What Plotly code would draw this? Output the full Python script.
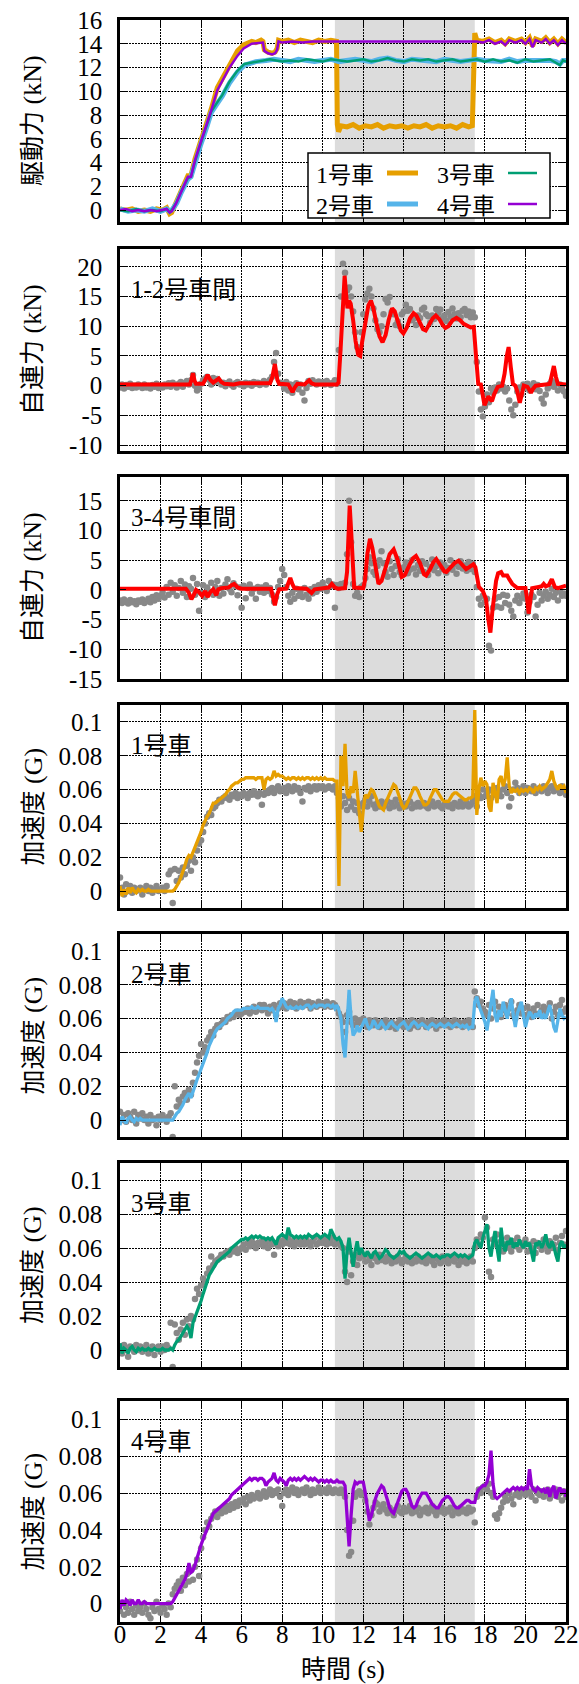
import plotly.graph_objects as go

# ------------------------------------------------------------------
# Logged series are sampled every 0.1 s from 0 to 22 s
# ------------------------------------------------------------------
t_log = [round(0.1 * i, 1) for i in range(221)]

# braking test window (gray band)
SHADE_START = 10.6
SHADE_END = 17.5

# ---------------- 駆動力 (kN) : break-points of each car ----------------
drive1_t = [0, 0.3, 0.6, 0.9, 1.2, 1.5, 1.8, 2.1, 2.3, 2.45, 2.55, 2.75, 3.0, 3.2, 3.35, 3.5, 3.7, 4.0,
            4.3, 4.5, 4.8, 5.05, 5.4, 5.8, 6.1, 6.5, 6.7, 6.96, 7.05, 7.12, 7.3, 7.5, 7.65, 7.75, 7.82,
            8.0, 8.3, 8.6, 8.9, 9.2, 9.5, 9.8, 10.1, 10.4, 10.68, 10.72, 10.78, 10.9, 11.2, 11.5, 11.8,
            12.1, 12.4, 12.7, 13.0, 13.3, 13.6, 13.9, 14.2, 14.5, 14.8, 15.1, 15.4, 15.7, 16.0, 16.3,
            16.6, 16.9, 17.2, 17.38, 17.45, 17.5, 17.6, 17.9, 18.2, 18.5, 18.8, 19.0, 19.2, 19.5, 19.8,
            20.0, 20.2, 20.35, 20.5, 20.8, 21.0, 21.2, 21.4, 21.6, 21.8, 22.0]
drive1_kn = [0.1, 0.0, 0.1, -0.1, 0.0, -0.1, 0.1, 0.0, 0.2, -0.3, -0.2, 0.6, 1.6, 2.4, 2.9, 2.9, 4.3, 5.9,
             7.4, 8.5, 10.3, 11.1, 12.3, 13.4, 13.9, 14.2, 14.1, 14.3, 14.2, 13.5, 13.3, 13.2, 13.3, 13.6, 14.3,
             14.2, 14.3, 14.1, 14.3, 14.2, 14.1, 14.3, 14.2, 14.3, 14.2, 7.2, 6.6, 7.1, 7.0, 7.2, 6.9,
             7.1, 7.0, 7.2, 6.9, 7.1, 7.0, 7.1, 6.9, 7.1, 7.0, 7.2, 6.9, 7.1, 7.0, 7.1,
             6.9, 7.2, 7.0, 7.1, 14.0, 14.9, 14.3, 14.2, 14.4, 14.1, 14.3, 14.0, 14.4, 14.2, 14.4,
             14.1, 14.5, 13.8, 14.4, 14.2, 14.5, 14.1, 14.4, 14.0, 14.4, 14.1]

drive2_t = [0, 0.4, 0.8, 1.2, 1.6, 2.0, 2.3, 2.45, 2.6, 2.8, 3.0, 3.2, 3.35, 3.5, 3.7, 4.0, 4.3, 4.5,
            4.77, 5.05, 5.4, 5.78, 6.14, 6.7, 7.2, 7.6, 8.0, 8.4, 8.8, 9.2, 9.6, 10.0, 10.4, 10.8, 11.2,
            11.6, 12.0, 12.4, 12.8, 13.2, 13.6, 14.0, 14.4, 14.8, 15.2, 15.6, 16.0, 16.4, 16.8, 17.2,
            17.6, 18.0, 18.4, 18.8, 19.2, 19.6, 20.0, 20.4, 20.8, 21.2, 21.5, 21.7, 21.85, 22.0]
drive2_kn = [0.1, -0.1, 0.0, -0.1, 0.1, -0.1, 0.1, -0.1, 0.1, 0.6, 1.4, 2.1, 2.6, 2.8, 4.0, 5.6, 7.1, 8.2,
             8.9, 9.6, 10.7, 11.6, 12.2, 12.5, 12.6, 12.7, 12.6, 12.5, 12.7, 12.6, 12.5, 12.6, 12.7, 12.5, 12.6,
             12.7, 12.6, 12.5, 12.7, 12.8, 12.6, 12.5, 12.7, 12.6, 12.6, 12.5, 12.7, 12.6, 12.5, 12.6,
             12.7, 12.6, 12.6, 12.5, 12.7, 12.5, 12.6, 12.6, 12.7, 12.6, 12.5, 12.3, 12.6, 12.6]

drive3_t = [0, 0.4, 0.8, 1.2, 1.6, 2.0, 2.3, 2.45, 2.6, 2.8, 3.0, 3.2, 3.35, 3.5, 3.7, 4.0, 4.3, 4.5,
            4.77, 5.05, 5.4, 5.78, 6.14, 6.7, 7.0, 7.4, 7.7, 8.0, 8.4, 8.8, 9.2, 9.6, 10.0, 10.4, 10.8,
            11.2, 11.6, 12.0, 12.4, 12.8, 13.2, 13.6, 14.0, 14.4, 14.8, 15.2, 15.6, 16.0, 16.4, 16.8,
            17.2, 17.6, 18.0, 18.4, 18.8, 19.2, 19.6, 20.0, 20.4, 20.8, 21.2, 21.5, 21.7, 21.85, 22.0]
drive3_kn = [0.0, -0.1, 0.1, -0.1, 0.0, -0.1, 0.1, -0.2, 0.1, 0.7, 1.5, 2.2, 2.7, 2.8, 4.1, 5.7, 7.2, 8.3,
             9.0, 9.7, 10.8, 11.7, 12.3, 12.5, 12.6, 12.7, 12.6, 12.5, 12.6, 12.5, 12.7, 12.6, 12.5, 12.7, 12.6,
             12.5, 12.6, 12.7, 12.5, 12.6, 12.8, 12.6, 12.5, 12.7, 12.6, 12.7, 12.5, 12.6, 12.7, 12.5,
             12.6, 12.7, 12.5, 12.7, 12.5, 12.6, 12.4, 12.7, 12.5, 12.6, 12.7, 12.4, 12.2, 12.6, 12.5]

drive4_t = [0, 0.3, 0.6, 0.9, 1.2, 1.5, 1.8, 2.1, 2.3, 2.45, 2.55, 2.75, 3.0, 3.2, 3.35, 3.5, 3.7, 4.0,
            4.3, 4.5, 4.8, 5.05, 5.4, 5.8, 6.1, 6.5, 6.96, 7.05, 7.12, 7.3, 7.5, 7.65, 7.75, 7.82, 8.0,
            8.5, 9.0, 9.5, 10.0, 10.7, 17.45, 17.6, 17.9, 18.2, 18.5, 18.8, 19.0, 19.2, 19.5, 19.8, 20.0,
            20.2, 20.35, 20.5, 20.8, 21.0, 21.2, 21.4, 21.6, 21.8, 22.0]
drive4_kn = [0.0, 0.1, -0.1, 0.0, -0.1, 0.0, -0.1, 0.0, 0.1, -0.2, -0.1, 0.5, 1.5, 2.3, 2.8, 2.8, 4.2, 5.8,
             7.3, 8.4, 10.1, 10.9, 12.0, 13.0, 13.6, 14.0, 14.1, 14.1, 13.4, 13.2, 13.1, 13.2, 13.5, 14.2, 14.1,
             14.2, 14.1, 14.2, 14.2, 14.2, 14.2, 14.2, 14.1, 14.3, 14.0, 14.2, 13.9, 14.3, 14.1, 14.3, 14.0,
             14.4, 13.7, 14.3, 14.1, 14.4, 14.0, 14.3, 13.9, 14.3, 14.0]

# ---------------- 1-2号車間 連結力 (kN) ----------------
coupler12_meas = [
    -0.3, 0.2, -0.5, 0.1, -0.2, 0.3, -0.4, 0.0, -0.3, 0.2,
    -0.1, -0.4, 0.2, -0.3, 0.0, -0.5, 0.1, -0.2, 0.3, -0.4,
    0.0, -0.3, 0.2, -0.1, 0.4, -0.2, 0.5, 0.1, -0.3, 0.3,
    0.6, -0.2, 0.4, 0.8, 0.2, 0.9, 1.8, 0.0, -0.8, -0.5,
    0.3, 0.9, 1.2, 1.5, 1.0, 0.2, 1.3, 0.6, 1.1, 0.7,
    0.2, 0.5, -0.1, 0.4, 0.7, 0.1, -0.2, 0.4, 0.6, 0.2,
    0.3, -0.1, 0.5, 0.2, 0.4, 0.0, 0.6, 0.3, 0.5, 0.1,
    0.4, 0.8, 0.2, 0.6, 1.0, 1.5, 4.0, 5.5, 2.0, 0.5,
    0.3, -0.5, 0.6, -0.8, 0.2, -1.2, 0.1, 0.4, -0.6, 0.2,
    -1.2, -2.5, -0.4, 0.8, 0.3, 0.9, 0.5, 0.2, 0.7, 0.4,
    0.6, 0.2, 0.8, 0.4, 0.1, 0.5, 0.9, 0.3, 6.0, 15.0,
    20.5, 19.0, 16.0, 16.5, 15.0, 12.5, 9.0, 6.5, 6.0, 9.0,
    12.0, 14.5, 15.5, 16.3, 15.0, 13.0, 11.0, 9.5, 9.0, 10.0,
    12.0, 14.6, 14.0, 14.9, 12.4, 12.0, 10.2, 10.8, 10.0, 12.0,
    12.5, 13.6, 12.6, 12.9, 11.0, 11.3, 10.2, 11.8, 11.4, 12.8,
    13.1, 12.0, 11.7, 10.6, 11.8, 11.2, 12.9, 12.2, 12.8, 11.3,
    11.8, 10.9, 12.4, 11.6, 13.0, 12.0, 11.3, 12.2, 11.5, 12.6,
    12.9, 11.9, 12.5, 11.5, 12.3, 11.5, 4.0, -1.0, -4.0, -5.2,
    -3.5, -1.5, -2.8, -0.5, -1.2, -0.3, -0.8, 0.2, -0.5, -0.2,
    -1.0, -0.5, -2.5, -4.0, -5.0, -3.2, -1.0, -0.3, -1.5, 0.2,
    -0.4, 0.3, -0.8, -0.2, 0.4, -0.6, 0.1, -0.9, -2.2, -3.0,
    -1.5, -0.5, 0.3, 0.8, -0.2, 0.5, -0.8, 0.2, -0.4, -1.0,
    -1.7]

coupler12_sim_t = [0, 3.45, 3.52, 3.6, 3.68, 3.75, 4.1, 4.2, 4.32, 4.45, 4.6, 4.75, 4.87, 5.0, 5.15, 5.6, 5.9,
                   7.4, 7.52, 7.64, 7.76, 7.85, 8.3, 8.42, 8.51, 8.62, 8.75, 9.1, 9.22, 9.33, 9.45, 9.6,
                   10.7, 10.78, 10.88, 10.98, 11.08, 11.15, 11.22, 11.3, 11.38, 11.5, 11.62, 11.75, 11.85,
                   11.95, 12.1, 12.25, 12.38, 12.5, 12.65, 12.8, 12.95, 13.1, 13.25, 13.42, 13.55, 13.7,
                   13.85, 13.98, 14.15, 14.3, 14.48, 14.62, 14.8, 14.95, 15.08, 15.25, 15.42, 15.58, 15.75,
                   15.92, 16.05, 16.2, 16.4, 16.6, 16.78, 16.95, 17.1, 17.3, 17.45, 17.52, 17.6, 17.67,
                   17.8, 17.9, 17.98, 18.08, 18.17, 18.25, 18.35, 18.45, 18.63, 18.85, 18.97, 19.08, 19.17,
                   19.28, 19.38, 19.5, 19.6, 19.72, 19.82, 19.92, 20.1, 20.27, 20.38, 20.5, 21.2, 21.3,
                   21.4, 21.5, 21.6, 22.0]
coupler12_sim_kn = [0.2, 0.2, 1.0, 2.1, 0.8, 0.3, 0.3, 1.0, 1.8, 1.0, 0.5, 0.9, 1.2, 0.6, 0.3, 0.2, 0.4,
                    0.4, 1.5, 3.65, 1.0, 0.3, 0.2, -0.5, -1.1, -0.3, 0.3, 0.2, 0.7, 0.9, 0.4, 0.2,
                    0.2, 0.5, 6.0, 13.0, 18.5, 15.5, 13.0, 14.3, 13.8, 11.0, 7.5, 5.2, 5.0,
                    7.5, 11.0, 13.5, 14.3, 13.0, 10.5, 8.3, 7.3, 8.5, 11.0, 13.0, 12.5, 11.0,
                    9.3, 8.8, 9.8, 11.3, 12.2, 11.8, 10.5, 9.5, 9.3, 10.2, 11.3, 11.8, 11.2,
                    10.2, 9.7, 10.0, 11.0, 11.4, 11.0, 10.4, 10.1, 9.8, 9.9, 6.0, 1.5, 0.3,
                    0.2, -1.5, -3.3, -2.5, -1.8, -2.2, -2.6, -1.5, -0.2, 0.0, 2.0, 5.0, 6.5,
                    3.0, 0.3, 0.0, -1.0, -2.9, -1.0, 0.0, -0.2, -1.2, -0.5, 0.0, 0.3, 1.5,
                    3.3, 1.5, 0.3, 0.2]

# ---------------- 3-4号車間 連結力 (kN) ----------------
coupler34_meas = [
    -1.8, -2.2, -1.6, -2.0, -2.3, -1.7, -2.1, -1.9, -2.4, -1.8,
    -2.0, -1.6, -2.2, -1.9, -1.5, -2.1, -1.2, -1.8, -0.9, -1.5,
    -1.0, -0.4, -1.3, 0.5, -0.8, 1.2, -0.3, 0.8, -1.0, 0.3,
    1.5, -0.5, 0.9, -1.2, 0.6, 0.2, 2.0, -0.8, 1.0, -3.5,
    -0.5, 0.8, -1.2, 0.4, -0.3, 1.2, -0.8, 0.5, 1.5, -1.0,
    0.3, -0.6, 0.9, 1.8, 0.2, -0.4, 1.1, 0.6, -0.9, 0.4,
    -3.0, 0.7, -1.4, 0.3, 0.9, -0.6, 0.2, -1.5, 0.5, -0.3,
    0.4, -0.5, 0.8, -0.2, 0.3, -0.8, -2.0, -1.2, 0.5, 1.5,
    3.5, 2.5, 0.5, -1.0, -2.0, -0.5, -1.5, 0.2, -1.0, -0.4,
    -1.2, 0.3, -0.8, -1.5, 0.1, -0.6, 0.5, -0.3, 0.8, 0.2,
    1.2, 0.4, -0.2, 1.5, 0.6, 0.9, -3.0, 0.8, 0.3, 1.0,
    0.5, 1.2, 6.0, 15.0, 8.0, 1.0, -1.0, -0.5, -1.2, 0.5,
    0.8, 2.0, 3.5, 5.5, 4.5, 3.0, 2.5, 4.0, 5.0, 6.5,
    4.5, 3.0, 2.2, 4.8, 3.5, 2.5, 4.0, 5.2, 3.0, 2.4,
    3.8, 4.6, 2.8, 3.4, 5.0, 3.6, 2.6, 4.2, 3.2, 4.8,
    3.0, 4.4, 2.5, 3.8, 5.1, 3.3, 4.0, 2.8, 4.6, 3.5,
    4.2, 2.9, 3.7, 5.0, 3.4, 4.3, 2.7, 3.9, 4.8, 3.6,
    4.1, 3.2, 4.7, 3.5, 4.4, 3.0, 0.5, -1.5, -2.5, -1.0,
    -2.0, -1.5, -9.4, -10.2, -3.0, -1.5, -2.8, -1.2, -3.0, -0.8,
    -2.2, -1.0, -2.5, -3.5, -4.5, -1.8, -1.0, -2.2, -1.4, -0.6,
    -1.5, -3.8, -2.0, -0.8, -1.2, -4.5, -2.5, -0.5, -1.8, -1.0,
    -0.3, -1.5, -0.8, 0.2, -1.2, -0.5, -1.8, -0.2, -1.0, -0.6,
    -1.0]

coupler34_sim_t = [0, 3.25, 3.4, 3.52, 3.65, 3.75, 3.9, 4.05, 4.2, 4.32, 4.45, 4.6, 4.75, 4.85, 5.0, 5.35,
                   5.5, 5.63, 5.8, 6.0, 7.45, 7.55, 7.64, 7.75, 7.85, 8.2, 8.3, 8.4, 8.5, 8.6, 9.2, 9.35,
                   9.45, 9.6, 10.1, 10.3, 10.45, 10.6, 10.75, 11.1, 11.2, 11.27, 11.33, 11.4, 11.48, 11.55,
                   12.0, 12.08, 12.2, 12.33, 12.45, 12.6, 12.75, 12.9, 13.1, 13.3, 13.5, 13.7, 13.9, 14.05,
                   14.25, 14.45, 14.6, 14.8, 15.0, 15.1, 15.3, 15.45, 15.6, 15.8, 16.0, 16.1, 16.3, 16.5,
                   16.7, 16.88, 17.07, 17.25, 17.43, 17.53, 17.62, 17.7, 17.9, 18.05, 18.17, 18.27, 18.37,
                   18.45, 18.55, 18.65, 18.8, 18.9, 19.1, 19.2, 19.35, 19.6, 20.0, 20.08, 20.16, 20.25,
                   20.33, 20.65, 20.8, 20.9, 21.0, 21.15, 21.3, 21.45, 21.6, 21.8, 22.0]
coupler34_sim_kn = [0.2, 0.2, -0.5, -1.6, -0.8, 0.0, -0.4, -1.0, -0.2, -1.2, -0.4, 0.1, -0.9, 0.1, 0.3, 0.4,
                    0.8, 1.0, 0.4, 0.2, 0.2, -1.0, -2.6, -0.8, 0.1, 0.2, 1.2, 2.0, 1.0, 0.3, 0.2, -0.3,
                    -0.5, 0.1, 0.2, 0.4, 1.0, 0.4, 0.2, 0.3, 3.0, 10.0, 14.2, 10.0, 3.0, 0.4,
                    0.3, 1.5, 6.0, 8.6, 7.0, 3.5, 1.0, 1.5, 3.8, 6.0, 6.8, 5.0, 2.2, 2.5,
                    4.0, 5.3, 5.7, 4.5, 2.6, 2.4, 3.5, 4.6, 5.2, 4.2, 3.1, 3.0, 3.8, 4.5,
                    4.9, 4.3, 3.5, 3.9, 4.3, 3.8, 1.5, 0.5, -0.2, -1.5, -5.0, -7.2, -3.5,
                    -0.5, 1.5, 2.8, 3.0, 2.4, 2.4, 1.8, 1.0, 0.3, 0.3, -1.5, -4.0, -1.5,
                    0.3, 0.5, 0.6, 1.0, 0.6, 0.8, 1.8, 0.5, 0.3, 0.5, 0.7]

# ---------------- 加速度 (mG), measured (gray) and computed (colour) ----------------
acc1_meas_mg = [
    8, 2, -2, 4, 0, 3, -1, 2, 0, 1,
    2, -2, 1, 3, 0, 2, -1, 1, 3, 0,
    1, 2, 0, 3, 10, 12, -7, 13, 6, 12,
    8, 14, 10, 15, 18, 12, 20, 17, 24, 28,
    30, 35, 40, 44, 46, 45, 49, 50, 52, 54,
    53, 55, 56, 55, 54, 57, 56, 58, 55, 57,
    56, 58, 57, 55, 58, 57, 59, 57, 56, 58,
    51, 57, 59, 58, 60, 61, 58, 60, 62, 59,
    60, 61, 58, 62, 60, 59, 62, 60, 61, 58,
    53, 61, 60, 62, 59, 61, 62, 60, 62, 61,
    62, 60, 61, 62, 61, 60, 62, 58, 55, 50,
    56, 52, 48, 55, 50, 53, 48, 52, 46, 50,
    52, 54, 50, 53, 56, 51, 49, 52, 50, 53,
    50, 51, 53, 49, 52, 50, 54, 51, 49, 52,
    51, 50, 52, 53, 49, 51, 50, 52, 50, 51,
    52, 50, 49, 51, 53, 50, 51, 52, 50, 49,
    51, 52, 50, 51, 49, 52, 51, 50, 53, 50,
    51, 52, 50, 51, 53, 56, 50, 57, 55, 60,
    56, 58, 60, 55, 59, 57, 61, 58, 56, 60,
    62, 58, 50, 55, 60, 64, 61, 58, 60, 62,
    58, 61, 60, 59, 62, 58, 60, 61, 59, 62,
    60, 58, 61, 62, 59, 61, 60, 58, 62, 59,
    57]
acc1_sim_mg = [
    3, -3, 1, -2, 2, -1, 2, 0, -1, 1,
    0, 1, 0, 0, 1, 0, 0, 0, 0, 0,
    0, 0, 0, 0, 0, 0, 0, 1, 3, 5,
    8, 11, 15, 19, 21, 20, 23, 26, 28, 31,
    35, 39, 42, 44, 46, 49, 52, 52, 53, 54,
    55, 56, 57, 59, 60, 62, 63, 64, 64, 65,
    66, 66, 67, 67, 67, 67, 67, 66, 67, 67,
    67, 60, 66, 67, 66, 67, 71, 68, 69, 68,
    68, 67, 66, 67, 66, 67, 67, 66, 67, 66,
    67, 66, 67, 67, 66, 67, 66, 67, 66, 67,
    66, 67, 66, 66, 66, 66, 65, 65, 3, 80,
    62, 87, 58, 55, 62, 58, 71, 60, 45, 35,
    48, 57, 55, 58, 60, 59, 56, 53, 50, 49,
    48, 52, 55, 58, 61, 63, 62, 59, 55, 51,
    49, 50, 53, 56, 59, 61, 61, 59, 56, 53,
    51, 51, 52, 55, 58, 60, 60, 58, 56, 54,
    53, 53, 53, 55, 57, 58, 58, 57, 56, 55,
    54, 54, 55, 55, 56, 107, 45, 60, 67, 62,
    65, 63, 50, 47, 64, 58, 52, 66, 68, 62,
    66, 79, 62, 58, 60, 59, 60, 58, 60, 59,
    60, 59, 61, 60, 58, 61, 60, 62, 60, 61,
    62, 64, 66, 71, 65, 62, 60, 63, 61, 62,
    58]

acc2_meas_mg = [
    5, 0, 3, -1, 4, 2, 0, 5, -2, 3,
    1, 4, 0, 2, -2, 3, 0, 1, -3, 2,
    0, 3, 1, -1, 2, 4, -10, 20, 8, 12,
    10, 14, 16, 12, 18, 15, 22, 28, 34, 38,
    45, 40, 43, 47, 49, 52, 50, 54, 56, 55,
    57, 59, 58, 61, 60, 62, 61, 63, 64, 62,
    63, 65, 64, 66, 63, 65, 67, 64, 66, 68,
    65, 68, 66, 63, 67, 65, 68, 62, 66, 69,
    67, 69, 66, 68, 70, 67, 69, 66, 68, 70,
    67, 69, 68, 70, 66, 69, 68, 67, 70, 68,
    69, 67, 70, 68, 67, 69, 68, 66, 63, 61,
    58, 52, 62, 64, 58, 56, 60, 57, 59, 58,
    60, 57, 55, 59, 58, 56, 59, 57, 55, 58,
    56, 59, 57, 55, 58, 56, 54, 57, 59, 56,
    55, 58, 57, 54, 59, 56, 58, 55, 57, 59,
    57, 55, 58, 56, 59, 57, 54, 58, 56, 58,
    59, 56, 58, 55, 57, 59, 56, 58, 57, 55,
    58, 56, 59, 57, 55, 76, 72, 68, 70, 66,
    64, 62, 68, 60, 66, 70, 63, 67, 61, 65,
    68, 63, 66, 70, 62, 60, 65, 68, 63, 66,
    62, 67, 64, 61, 66, 63, 68, 62, 65, 67,
    63, 66, 69, 60, 64, 67, 62, 68, 71, 64,
    66]
acc2_sim_mg = [
    -3, 2, 0, -2, 1, 2, 0, -1, 1, 0,
    1, 0, 0, 0, 0, 0, 0, 0, 0, 0,
    0, 0, 0, 0, 0, 0, 0, 2, 4, 5,
    7, 9, 12, 14, 16, 13, 17, 20, 24, 27,
    30, 33, 37, 40, 44, 47, 50, 52, 54, 55,
    56, 57, 58, 60, 61, 62, 64, 65, 65, 65,
    65, 66, 66, 66, 66, 67, 66, 66, 67, 66,
    66, 66, 66, 66, 65, 66, 64, 58, 66, 68,
    72, 69, 67, 66, 67, 66, 66, 67, 66, 67,
    66, 67, 68, 68, 66, 67, 68, 67, 68, 68,
    68, 67, 68, 68, 67, 68, 66, 68, 65, 60,
    45, 37, 55, 77, 60, 50, 52, 56, 52, 55,
    58, 60, 56, 54, 55, 59, 57, 54, 56, 58,
    56, 54, 55, 57, 58, 56, 55, 54, 56, 57,
    58, 56, 54, 55, 57, 58, 57, 55, 56, 57,
    56, 55, 54, 56, 57, 56, 55, 56, 57, 56,
    55, 56, 57, 56, 55, 56, 57, 56, 55, 56,
    55, 56, 54, 55, 55, 70, 73, 68, 65, 62,
    58, 53, 62, 68, 77, 62, 58, 65, 61, 70,
    64, 60, 66, 72, 62, 55, 63, 66, 70, 62,
    55, 60, 64, 62, 60, 63, 61, 65, 60, 62,
    60, 64, 68, 62, 55, 52, 60, 66, 62, 60,
    61]

acc3_meas_mg = [
    2, -2, 3, 0, -4, 2, 1, -1, 3, 0,
    2, -1, 1, 3, -2, 0, 2, -3, 1, 2,
    -1, 2, 0, 3, 1, 16, -10, 15, 10, 6,
    12, 16, 9, 18, 14, 20, 18, 30, 36, 33,
    38, 42, 40, 45, 48, 55, 50, 52, 53, 54,
    56, 55, 57, 58, 56, 59, 58, 60, 57, 59,
    60, 62, 59, 63, 61, 64, 62, 60, 63, 62,
    64, 61, 63, 60, 64, 62, 56, 63, 61, 64,
    62, 65, 63, 66, 62, 64, 61, 63, 65, 62,
    64, 62, 65, 63, 61, 64, 66, 62, 63, 65,
    63, 65, 62, 64, 63, 66, 62, 64, 63, 61,
    60, 46, 40, 58, 44, 52, 56, 50, 54, 57,
    55, 52, 56, 53, 50, 55, 54, 52, 56, 53,
    54, 52, 55, 53, 51, 54, 52, 55, 53, 51,
    53, 55, 52, 54, 51, 53, 52, 55, 53, 52,
    54, 51, 53, 55, 52, 50, 54, 53, 51, 55,
    52, 54, 51, 53, 55, 52, 54, 50, 53, 52,
    54, 51, 53, 55, 52, 60, 65, 62, 68, 66,
    78, 72, 46, 43, 65, 62, 68, 60, 64, 58,
    62, 66, 60, 58, 64, 61, 66, 59, 63, 61,
    65, 58, 62, 60, 64, 57, 63, 61, 59, 65,
    61, 58, 64, 60, 62, 66, 59, 63, 67, 62,
    70]
acc3_sim_mg = [
    4, -2, 1, 0, -2, 1, 2, 0, -1, 1,
    0, 1, 0, 0, 1, 0, 0, 1, 0, 0,
    0, 1, 0, 0, 0, 1, 0, 3, 5, 6,
    8, 10, 12, 14, 12, 7, 16, 19, 22, 26,
    29, 33, 37, 41, 44, 46, 48, 50, 52, 53,
    54, 55, 56, 57, 58, 60, 61, 62, 63, 64,
    65, 65, 66, 65, 66, 67, 66, 67, 66, 67,
    66, 66, 65, 66, 65, 66, 64, 62, 66, 67,
    68, 67, 66, 72, 68, 67, 66, 67, 66, 67,
    66, 67, 66, 68, 67, 66, 67, 68, 67, 66,
    67, 68, 67, 66, 71, 68, 66, 65, 66, 64,
    60, 42, 58, 66, 56, 49, 58, 64, 56, 60,
    57, 55, 58, 56, 54, 57, 58, 56, 54, 55,
    57, 59, 58, 56, 55, 54, 55, 56, 58, 57,
    58, 56, 55, 54, 55, 56, 57, 56, 55, 54,
    55, 56, 57, 56, 55, 55, 56, 55, 54, 55,
    55, 56, 56, 55, 56, 57, 56, 55, 56, 55,
    56, 55, 54, 55, 56, 63, 65, 62, 60, 66,
    70, 74, 60, 55, 64, 70, 60, 52, 72, 62,
    58, 64, 62, 66, 60, 63, 61, 65, 62, 60,
    64, 61, 63, 57, 52, 63, 62, 64, 60, 63,
    68, 62, 60, 64, 61, 56, 52, 62, 64, 60,
    62]

acc4_meas_mg = [
    -4, 0, -6, -2, -5, 1, -3, -6, -1, -4,
    -2, -5, 0, -3, -6, -8, -2, -4, 1, -3,
    -5, -1, -3, -6, 0, -2, 5, 8, 10, 12,
    7, 14, 10, 16, 12, 18, 13, 20, 24, 15,
    30, 36, 40, 44, 42, 46, 48, 50, 47, 51,
    49, 52, 50, 53, 51, 54, 52, 55, 53, 56,
    55, 57, 54, 58, 56, 59, 57, 58, 60, 57,
    59, 61, 58, 60, 62, 59, 61, 60, 62, 58,
    53, 60, 62, 59, 61, 63, 60, 62, 59, 61,
    62, 60, 63, 61, 59, 62, 60, 61, 63, 60,
    61, 62, 60, 63, 61, 60, 62, 61, 60, 62,
    60, 58, 40, 26, 28, 45, 58, 60, 61, 59,
    60, 56, 50, 43, 48, 52, 55, 54, 50, 52,
    54, 51, 49, 52, 50, 48, 51, 53, 50, 49,
    52, 50, 51, 53, 49, 51, 50, 52, 48, 51,
    50, 52, 49, 51, 53, 50, 48, 51, 50, 52,
    49, 51, 50, 52, 48, 50, 51, 49, 52, 50,
    51, 49, 52, 50, 51, 44, 58, 62, 60, 63,
    64, 62, 65, 60, 58, 48, 46, 49, 52, 55,
    58, 56, 60, 57, 54, 59, 61, 58, 60, 62,
    59, 61, 60, 58, 62, 56, 60, 59, 61, 58,
    60, 62, 57, 61, 59, 62, 58, 60, 56, 61,
    58]
acc4_sim_mg = [
    -3, 2, -1, 2, 1, -1, 2, 0, 0, 2,
    0, 0, 1, 0, 0, 0, 0, 0, 0, 0,
    0, 0, 0, 0, 0, 0, 1, 3, 5, 7,
    9, 11, 13, 16, 22, 17, 18, 21, 25, 29,
    32, 35, 38, 41, 44, 47, 49, 50, 51, 52,
    53, 54, 55, 56, 57, 59, 60, 61, 62, 63,
    64, 65, 66, 67, 68, 67, 68, 68, 67, 68,
    68, 67, 64, 66, 67, 68, 71, 67, 66, 68,
    67, 66, 64, 67, 68, 67, 68, 67, 68, 67,
    68, 69, 68, 67, 68, 67, 68, 67, 66, 67,
    67, 66, 67, 66, 67, 66, 66, 67, 66, 66,
    66, 64, 50, 31, 48, 62, 66, 65, 66, 66,
    66, 60, 52, 45, 48, 53, 57, 60, 62, 64,
    63, 60, 56, 52, 50, 49, 52, 56, 59, 61,
    62, 62, 60, 56, 53, 52, 53, 56, 58, 60,
    60, 60, 58, 56, 54, 53, 52, 52, 54, 56,
    57, 58, 58, 57, 55, 53, 52, 52, 53, 54,
    55, 56, 56, 55, 55, 55, 60, 62, 63, 64,
    64, 66, 70, 83, 65, 58, 57, 58, 59, 60,
    61, 62, 61, 62, 63, 62, 63, 62, 63, 62,
    63, 62, 73, 64, 62, 61, 63, 62, 61, 62,
    60, 63, 58, 62, 64, 57, 61, 63, 60, 62,
    58]

# ---------------- labels ----------------
CAR_NAMES = ["1号車", "2号車", "3号車", "4号車"]
CAR_COLORS = ["#E69F00", "#56B4E9", "#009E73", "#9400D3"]
GRAY = "#888888"
RED = "#ff0000"
SHADE = "#dcdcdc"

X_TICKS = list(range(0, 23, 2))
ACC_TICKS = [0, 0.02, 0.04, 0.06, 0.08, 0.1]
ACC_TICKTEXT = ["0", "0.02", "0.04", "0.06", "0.08", "0.1"]

# numbers in a Times-like serif; kanji in the gothic CJK face
NUM_FONT = "Liberation Serif"
KANJI_FONT = "Noto Sans CJK JP"


def mixed(text, size, kanji_size):
    """Wrap each run of CJK characters in its own span so Latin and kanji use different faces."""
    out, run, is_cjk = [], "", None
    for ch in text:
        c = ord(ch) > 0x2E80
        if is_cjk is None or c == is_cjk:
            run += ch
        else:
            out.append((is_cjk, run))
            run = ch
        is_cjk = c
    out.append((is_cjk, run))
    parts = []
    for cjk, r in out:
        if cjk:
            parts.append(f"<span style=\"font-family:{KANJI_FONT};font-size:{kanji_size}px\">{r}</span>")
        else:
            parts.append(f"<span style=\"font-family:{NUM_FONT};font-size:{size}px\">{r}</span>")
    return "".join(parts)


# ---------------- page geometry (pixels) ----------------
PAGE_W, PAGE_H = 579, 1684
PLOT_LEFT, PLOT_RIGHT = 120, 566
PANELS = [(20, 222), (249, 451), (477, 679), (705, 908), (934, 1137), (1163, 1367), (1401, 1622)]


def px(xp):
    return xp / PAGE_W


def py(yp):
    return 1 - yp / PAGE_H


def ax_id(letter, n):
    return letter if n == 1 else f"{letter}{n}"


def mg_to_g(values):
    return [v / 1000 for v in values]


fig = go.Figure()


def add_line(n, x, y, color, width):
    fig.add_trace(go.Scatter(x=x, y=y, mode="lines", line=dict(color=color, width=width),
                             xaxis=ax_id("x", n), yaxis=ax_id("y", n), hoverinfo="skip"))


def add_points(n, x, y):
    fig.add_trace(go.Scatter(x=x, y=y, mode="markers", marker=dict(color=GRAY, size=6.5, line=dict(width=0)),
                             xaxis=ax_id("x", n), yaxis=ax_id("y", n), hoverinfo="skip"))


# panel 1: driving force of each car (thick lines first)
add_line(1, drive1_t, drive1_kn, CAR_COLORS[0], 5)
add_line(1, drive2_t, drive2_kn, CAR_COLORS[1], 5)
add_line(1, drive3_t, drive3_kn, CAR_COLORS[2], 2.5)
add_line(1, drive4_t, drive4_kn, CAR_COLORS[3], 2.5)

# panels 2, 3: coupler forces
add_points(2, t_log, coupler12_meas)
add_line(2, coupler12_sim_t, coupler12_sim_kn, RED, 4)
add_points(3, t_log, coupler34_meas)
add_line(3, coupler34_sim_t, coupler34_sim_kn, RED, 4)

# panels 4-7: accelerations
acc_pairs = [(acc1_meas_mg, acc1_sim_mg), (acc2_meas_mg, acc2_sim_mg),
             (acc3_meas_mg, acc3_sim_mg), (acc4_meas_mg, acc4_sim_mg)]
for k, (meas, sim) in enumerate(acc_pairs):
    n = 4 + k
    add_points(n, t_log, mg_to_g(meas))
    add_line(n, t_log, mg_to_g(sim), CAR_COLORS[k], 3.3)

# ---------------- axes ----------------
y_specs = [
    dict(range=[-1, 16], tickvals=list(range(0, 17, 2)), ticktext=[str(v) for v in range(0, 17, 2)]),
    dict(range=[-11, 23], tickvals=list(range(-10, 21, 5)), ticktext=[str(v) for v in range(-10, 21, 5)]),
    dict(range=[-15, 19], tickvals=list(range(-15, 16, 5)), ticktext=[str(v) for v in range(-15, 16, 5)]),
] + [dict(range=[-0.01, 0.11], tickvals=ACC_TICKS, ticktext=ACC_TICKTEXT) for _ in range(4)]

y_titles = ["駆動力 (kN)", "自連力 (kN)", "自連力 (kN)",
            "加速度 (G)", "加速度 (G)", "加速度 (G)", "加速度 (G)"]
panel_labels = [None, "1-2号車間", "3-4号車間", "1号車", "2号車", "3号車", "4号車"]

axis_common = dict(showline=True, linewidth=2.5, linecolor="black", mirror="allticks",
                   ticks="inside", ticklen=6, tickwidth=1, tickcolor="black",
                   showgrid=True, gridcolor="black", gridwidth=1, griddash="2px,1px",
                   zeroline=False, automargin=False,
                   tickfont=dict(family=NUM_FONT, size=25, color="black"))

layout_axes = {}
annotations = []
shapes = []
for i, (top, bottom) in enumerate(PANELS):
    n = i + 1
    xa = "xaxis" if n == 1 else f"xaxis{n}"
    ya = "yaxis" if n == 1 else f"yaxis{n}"
    layout_axes[xa] = dict(axis_common, domain=[px(PLOT_LEFT), px(PLOT_RIGHT)], range=[0, 22],
                           anchor=ax_id("y", n), tickvals=X_TICKS, ticktext=[str(v) for v in X_TICKS],
                           showticklabels=(n == len(PANELS)), ticklabelstandoff=-12)
    layout_axes[ya] = dict(axis_common, domain=[py(bottom), py(top)], anchor=ax_id("x", n),
                           ticklabelstandoff=10, **y_specs[i])
    shapes.append(dict(type="rect", xref=ax_id("x", n), yref=ax_id("y", n) + " domain",
                       x0=SHADE_START, x1=SHADE_END, y0=0, y1=1,
                       fillcolor=SHADE, line=dict(width=0), layer="below"))
    annotations.append(dict(text=mixed(y_titles[i], 26, 25), xref="paper", yref="paper",
                            x=px(30), y=py((top + bottom) / 2),
                            xanchor="center", yanchor="middle", textangle=-90, showarrow=False,
                            font=dict(family=NUM_FONT, size=26, color="black")))
    if panel_labels[i]:
        annotations.append(dict(text=mixed(panel_labels[i], 25, 24), xref="paper", yref="paper", x=px(129),
                                y=py(top + 38), xanchor="left", yanchor="middle", showarrow=False,
                                font=dict(family=NUM_FONT, size=25, color="black")))

annotations.append(dict(text=mixed("時間 (s)", 26, 25), xref="paper", yref="paper",
                        x=px((PLOT_LEFT + PLOT_RIGHT) / 2),
                        y=py(1667), xanchor="center", yanchor="middle", showarrow=False,
                        font=dict(family=NUM_FONT, size=26, color="black")))

# legend of panel 1: label followed by its line sample
LEG_BOX = (308, 153, 550, 218)
shapes.append(dict(type="rect", xref="paper", yref="paper", x0=px(LEG_BOX[0]), x1=px(LEG_BOX[2]),
                   y0=py(LEG_BOX[3]), y1=py(LEG_BOX[1]), fillcolor="white",
                   line=dict(color="black", width=1.5), layer="above"))
leg_rows = [173, 204]
leg_cols = [(314, 387, 418), (435, 508, 537)]
leg_widths = [5, 5, 2.5, 2.5]
for k, name in enumerate(CAR_NAMES):
    col = leg_cols[k // 2]
    row = leg_rows[k % 2]
    annotations.append(dict(text=mixed(name, 24, 23), xref="paper", yref="paper", x=px(col[0]), y=py(row),
                            xanchor="left", yanchor="middle", showarrow=False,
                            font=dict(family=NUM_FONT, size=21, color="black")))
    shapes.append(dict(type="line", xref="paper", yref="paper", x0=px(col[1]), x1=px(col[2]),
                       y0=py(row), y1=py(row), line=dict(color=CAR_COLORS[k], width=leg_widths[k]),
                       layer="above"))

fig.update_layout(
    template="none",
    width=PAGE_W, height=PAGE_H,
    margin=dict(l=0, r=0, t=0, b=0),
    paper_bgcolor="white", plot_bgcolor="white",
    showlegend=False,
    font=dict(family=NUM_FONT, size=25, color="black"),
    shapes=shapes, annotations=annotations,
    **layout_axes,
)

fig.write_html("out.html")
